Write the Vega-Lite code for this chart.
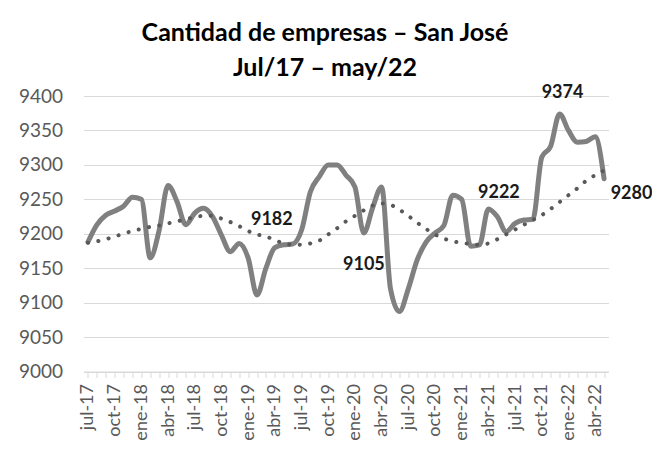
{
  "$schema": "https://vega.github.io/schema/vega-lite/v6.json",
  "width": 525,
  "height": 275.5,
  "autosize": {"type": "none"},
  "padding": {"left": 83.5, "top": 96, "right": 43.5, "bottom": 83.5},
  "background": "white",
  "title": {
    "text": ["Cantidad de empresas – San José", "Jul/17 – may/22"],
    "font": "Lato",
    "fontSize": 25,
    "fontWeight": "bold",
    "color": "#000000",
    "anchor": "middle",
    "frame": "group",
    "dx": -21,
    "offset": 3,
    "lineHeight": 35
  },
  "config": {
    "view": {"stroke": null},
    "axis": {"labelFont": "Lato", "labelColor": "#595959", "title": null},
    "axisY": {"tickCount": 10, "labelOverlap": false, "labelFlush": false}
  },
  "datasets": {
    "main": [
      {"month": "jul-17", "v": 9188, "trend": 9187},
      {"month": "ago-17", "v": 9213, "trend": 9189},
      {"month": "sep-17", "v": 9227, "trend": 9192},
      {"month": "oct-17", "v": 9233, "trend": 9196},
      {"month": "nov-17", "v": 9240, "trend": 9200},
      {"month": "dic-17", "v": 9253, "trend": 9204},
      {"month": "ene-18", "v": 9250, "trend": 9207},
      {"month": "feb-18", "v": 9165, "trend": 9210},
      {"month": "mar-18", "v": 9205, "trend": 9212},
      {"month": "abr-18", "v": 9270, "trend": 9215},
      {"month": "may-18", "v": 9247, "trend": 9218},
      {"month": "jun-18", "v": 9213, "trend": 9221},
      {"month": "jul-18", "v": 9230, "trend": 9224},
      {"month": "ago-18", "v": 9237, "trend": 9226},
      {"month": "sep-18", "v": 9225, "trend": 9226},
      {"month": "oct-18", "v": 9198, "trend": 9222},
      {"month": "nov-18", "v": 9174, "trend": 9217},
      {"month": "dic-18", "v": 9186, "trend": 9211},
      {"month": "ene-19", "v": 9165, "trend": 9204},
      {"month": "feb-19", "v": 9111, "trend": 9199},
      {"month": "mar-19", "v": 9150, "trend": 9196},
      {"month": "abr-19", "v": 9180, "trend": 9191},
      {"month": "may-19", "v": 9184, "trend": 9186},
      {"month": "jun-19", "v": 9185, "trend": 9184},
      {"month": "jul-19", "v": 9205, "trend": 9184},
      {"month": "ago-19", "v": 9261, "trend": 9186},
      {"month": "sep-19", "v": 9283, "trend": 9190},
      {"month": "oct-19", "v": 9300, "trend": 9199},
      {"month": "nov-19", "v": 9300, "trend": 9208},
      {"month": "dic-19", "v": 9285, "trend": 9218},
      {"month": "ene-20", "v": 9268, "trend": 9226},
      {"month": "feb-20", "v": 9201, "trend": 9234},
      {"month": "mar-20", "v": 9238, "trend": 9241},
      {"month": "abr-20", "v": 9268, "trend": 9244},
      {"month": "may-20", "v": 9120, "trend": 9242},
      {"month": "jun-20", "v": 9087, "trend": 9235},
      {"month": "jul-20", "v": 9120, "trend": 9226},
      {"month": "ago-20", "v": 9162, "trend": 9216},
      {"month": "sep-20", "v": 9188, "trend": 9207},
      {"month": "oct-20", "v": 9201, "trend": 9199},
      {"month": "nov-20", "v": 9212, "trend": 9193},
      {"month": "dic-20", "v": 9256, "trend": 9189},
      {"month": "ene-21", "v": 9250, "trend": 9187},
      {"month": "feb-21", "v": 9182, "trend": 9185},
      {"month": "mar-21", "v": 9184, "trend": 9184},
      {"month": "abr-21", "v": 9236, "trend": 9186},
      {"month": "may-21", "v": 9225, "trend": 9192},
      {"month": "jun-21", "v": 9203, "trend": 9199},
      {"month": "jul-21", "v": 9215, "trend": 9206},
      {"month": "ago-21", "v": 9220, "trend": 9213},
      {"month": "sep-21", "v": 9221, "trend": 9220},
      {"month": "oct-21", "v": 9311, "trend": 9227},
      {"month": "nov-21", "v": 9327, "trend": 9236},
      {"month": "dic-21", "v": 9374, "trend": 9246},
      {"month": "ene-22", "v": 9350, "trend": 9256},
      {"month": "feb-22", "v": 9333, "trend": 9266},
      {"month": "mar-22", "v": 9334, "trend": 9277},
      {"month": "abr-22", "v": 9341, "trend": 9285},
      {"month": "may-22", "v": 9280, "trend": 9292}
    ],
    "labels": [
      {"month": "abr-19", "value": 9182, "dxk": "a"},
      {"month": "jun-20", "value": 9105, "dxk": "b"},
      {"month": "abr-21", "value": 9222, "dxk": "c"},
      {"month": "dic-21", "value": 9374, "dxk": "d"},
      {"month": "may-22", "value": 9280, "dxk": "e"}
    ]
  },
  "layer": [
    {
      "data": {"name": "main"},
      "mark": {"type": "line", "color": "#808080", "strokeWidth": 5, "interpolate": "monotone", "strokeCap": "round", "strokeJoin": "round"},
      "encoding": {
        "x": {
          "field": "month",
          "type": "ordinal",
          "scale": {
            "type": "point",
            "padding": 0.5,
            "domain": ["jul-17","ago-17","sep-17","oct-17","nov-17","dic-17","ene-18","feb-18","mar-18","abr-18","may-18","jun-18","jul-18","ago-18","sep-18","oct-18","nov-18","dic-18","ene-19","feb-19","mar-19","abr-19","may-19","jun-19","jul-19","ago-19","sep-19","oct-19","nov-19","dic-19","ene-20","feb-20","mar-20","abr-20","may-20","jun-20","jul-20","ago-20","sep-20","oct-20","nov-20","dic-20","ene-21","feb-21","mar-21","abr-21","may-21","jun-21","jul-21","ago-21","sep-21","oct-21","nov-21","dic-21","ene-22","feb-22","mar-22","abr-22","may-22"]
          },
          "axis": {
            "labelAngle": -90,
            "labelFontSize": 18,
            "labelPadding": 6,
            "labelOverlap": false,
            "labelExpr": "indexof(['jul','oct','ene','abr'], slice(datum.value,0,3)) >= 0 ? datum.label : ''",
            "domain": true,
            "domainColor": "#d9d9d9",
            "ticks": true,
            "tickColor": "#d9d9d9",
            "tickSize": 6,
            "grid": false
          }
        },
        "y": {
          "field": "v",
          "type": "quantitative",
          "scale": {"domain": [9000, 9400], "zero": false, "nice": false},
          "axis": {
            "values": [9000, 9050, 9100, 9150, 9200, 9250, 9300, 9350, 9400],
            "tickCount": 10,
            "format": "d",
            "labelOverlap": false,
            "grid": true,
            "gridColor": "#d9d9d9",
            "domain": false,
            "ticks": false,
            "labelPadding": 21,
            "labelFontSize": 19
          }
        }
      }
    },
    {
      "data": {"name": "main"},
      "mark": {"type": "line", "color": "#595959", "strokeWidth": 4, "strokeDash": [0.1, 10.4], "strokeCap": "round", "interpolate": "monotone"},
      "encoding": {
        "x": {"field": "month", "type": "ordinal"},
        "y": {"field": "trend", "type": "quantitative", "axis": {"values": [9000, 9050, 9100, 9150, 9200, 9250, 9300, 9350, 9400], "tickCount": 10, "format": "d", "labelOverlap": false}}
      }
    },
    {
      "data": {"name": "labels"},
      "transform": [{"filter": "datum.dxk == 'a'"}],
      "mark": {"type": "text", "font": "Lato", "fontSize": 18, "fontWeight": "bold", "color": "#1a1a1a", "align": "center", "baseline": "middle", "dx": -3, "dy": -26},
      "encoding": {
        "x": {"field": "month", "type": "ordinal"},
        "y": {"field": "value", "type": "quantitative", "axis": {"values": [9000, 9050, 9100, 9150, 9200, 9250, 9300, 9350, 9400], "tickCount": 10, "format": "d", "labelOverlap": false}},
        "text": {"field": "value", "type": "nominal"}
      }
    },
    {
      "data": {"name": "labels"},
      "transform": [{"filter": "datum.dxk == 'b'"}],
      "mark": {"type": "text", "font": "Lato", "fontSize": 18, "fontWeight": "bold", "color": "#1a1a1a", "align": "center", "baseline": "middle", "dx": -35.5, "dy": -34},
      "encoding": {
        "x": {"field": "month", "type": "ordinal"},
        "y": {"field": "value", "type": "quantitative", "axis": {"values": [9000, 9050, 9100, 9150, 9200, 9250, 9300, 9350, 9400], "tickCount": 10, "format": "d", "labelOverlap": false}},
        "text": {"field": "value", "type": "nominal"}
      }
    },
    {
      "data": {"name": "labels"},
      "transform": [{"filter": "datum.dxk == 'c'"}],
      "mark": {"type": "text", "font": "Lato", "fontSize": 18, "fontWeight": "bold", "color": "#1a1a1a", "align": "center", "baseline": "middle", "dx": 10.5, "dy": -25.6},
      "encoding": {
        "x": {"field": "month", "type": "ordinal"},
        "y": {"field": "value", "type": "quantitative", "axis": {"values": [9000, 9050, 9100, 9150, 9200, 9250, 9300, 9350, 9400], "tickCount": 10, "format": "d", "labelOverlap": false}},
        "text": {"field": "value", "type": "nominal"}
      }
    },
    {
      "data": {"name": "labels"},
      "transform": [{"filter": "datum.dxk == 'd'"}],
      "mark": {"type": "text", "font": "Lato", "fontSize": 18, "fontWeight": "bold", "color": "#1a1a1a", "align": "center", "baseline": "middle", "dx": 3, "dy": -21},
      "encoding": {
        "x": {"field": "month", "type": "ordinal"},
        "y": {"field": "value", "type": "quantitative", "axis": {"values": [9000, 9050, 9100, 9150, 9200, 9250, 9300, 9350, 9400], "tickCount": 10, "format": "d", "labelOverlap": false}},
        "text": {"field": "value", "type": "nominal"}
      }
    },
    {
      "data": {"name": "labels"},
      "transform": [{"filter": "datum.dxk == 'e'"}],
      "mark": {"type": "text", "font": "Lato", "fontSize": 18, "fontWeight": "bold", "color": "#1a1a1a", "align": "center", "baseline": "middle", "dx": 27.5, "dy": 15},
      "encoding": {
        "x": {"field": "month", "type": "ordinal"},
        "y": {"field": "value", "type": "quantitative", "axis": {"values": [9000, 9050, 9100, 9150, 9200, 9250, 9300, 9350, 9400], "tickCount": 10, "format": "d", "labelOverlap": false}},
        "text": {"field": "value", "type": "nominal"}
      }
    }
  ]
}
